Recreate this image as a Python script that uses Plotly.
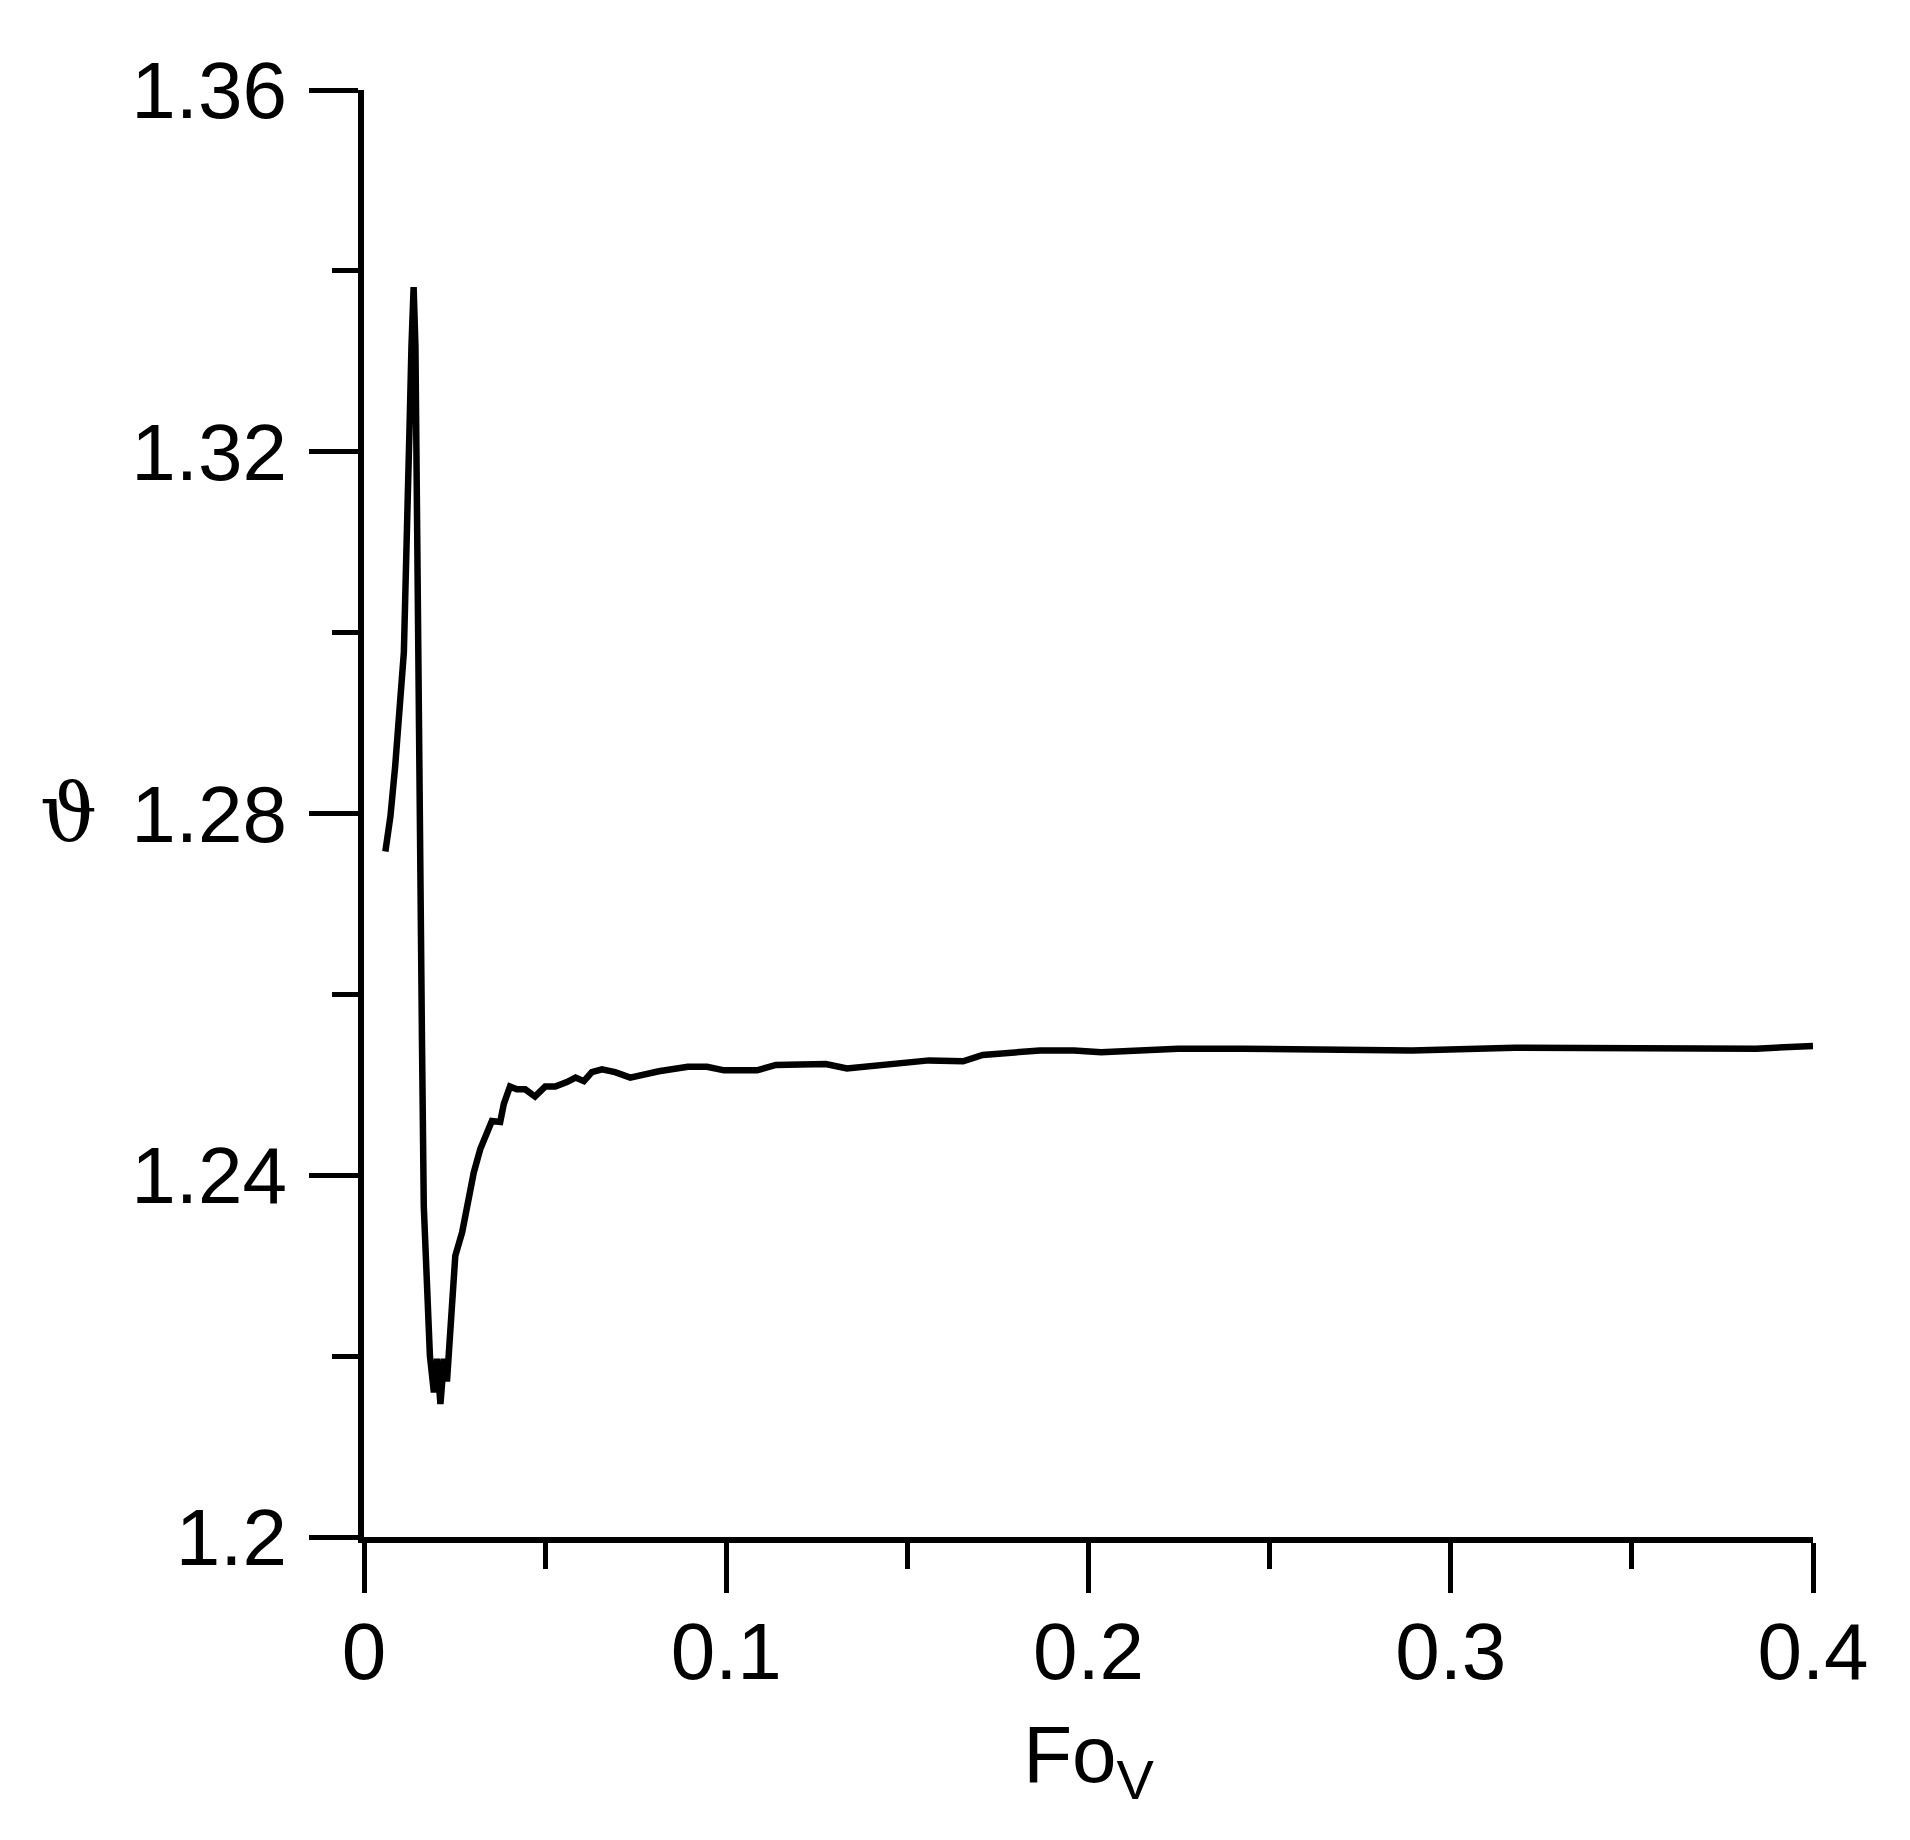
import plotly.graph_objects as go

# Data
fov = [0.0059, 0.0073, 0.0086, 0.0100, 0.0110, 0.0114, 0.0119, 0.0123, 0.0126, 0.0131,
       0.0137, 0.0142, 0.0146, 0.0151, 0.0155, 0.0160, 0.0165, 0.0174, 0.0182, 0.0193,
       0.0202, 0.0211, 0.0221, 0.0229, 0.0238, 0.0252, 0.0271, 0.0284, 0.0303, 0.0321,
       0.0335, 0.0353, 0.0376, 0.0386, 0.0403, 0.0422, 0.0445, 0.0472, 0.0500, 0.0528,
       0.0560, 0.0584, 0.0607, 0.0629, 0.0657, 0.0693, 0.0735, 0.0776, 0.0814, 0.0894,
       0.0947, 0.0994, 0.1085, 0.1137, 0.1275, 0.1333, 0.1444, 0.1560, 0.1654, 0.1708,
       0.1866, 0.1960, 0.2035, 0.2173, 0.2247, 0.2424, 0.2692, 0.2893, 0.3177, 0.3843,
       0.4000]
theta = [1.2758, 1.2797, 1.2852, 1.2915, 1.2978, 1.3042, 1.3105, 1.3169, 1.3232, 1.3316,
         1.3382, 1.3316, 1.3105, 1.2936, 1.2741, 1.2550, 1.2366, 1.2255, 1.2200, 1.2160,
         1.2197, 1.2147, 1.2197, 1.2172, 1.2233, 1.2311, 1.2337, 1.2366, 1.2403, 1.2429,
         1.2443, 1.2460, 1.2459, 1.2479, 1.2498, 1.2495, 1.2495, 1.2487, 1.2498, 1.2498,
         1.2503, 1.2508, 1.2504, 1.2514, 1.2517, 1.2514, 1.2508, 1.2512, 1.2515, 1.2520,
         1.2520, 1.2516, 1.2516, 1.2522, 1.2523, 1.2518, 1.2523, 1.2527, 1.2526, 1.2533,
         1.2538, 1.2538, 1.2536, 1.2538, 1.2540, 1.2540, 1.2538, 1.2538, 1.2541, 1.2540,
         1.2543]

x_tickvals = [0, 0.1, 0.2, 0.3, 0.4]
x_ticktext = ["0", "0.1", "0.2", "0.3", "0.4"]
y_tickvals = [1.2, 1.24, 1.28, 1.32, 1.36]
y_ticktext = ["1.2", "1.24", "1.28", "1.32", "1.36"]

FONT = "Arial, Liberation Sans, sans-serif"

fig = go.Figure()
fig.add_trace(go.Scatter(x=fov, y=theta, mode="lines",
                         line=dict(color="black", width=6.5), showlegend=False))

fig.update_layout(
    width=1910, height=1840, autosize=False,
    margin=dict(l=356, r=105, t=82, b=311),
    paper_bgcolor="white", plot_bgcolor="white",
    font=dict(family=FONT, size=80, color="black"),
)

fig.update_xaxes(
    range=[0, 0.4], showgrid=False, zeroline=False,
    showline=True, linecolor="black", linewidth=6,
    ticks="outside", ticklen=50, tickwidth=5, tickcolor="black",
    tickvals=x_tickvals, ticktext=x_ticktext,
    minor=dict(ticks="outside", ticklen=26, tickwidth=5, tickcolor="black",
               dtick=0.05, showgrid=False),
    tickfont=dict(family=FONT, size=80, color="black"),
    ticklabelstandoff=-10,
    title=dict(text="Fo<sub>V</sub>", font=dict(family=FONT, size=80, color="black"),
               standoff=33),
)

fig.update_yaxes(
    range=[1.2, 1.36], showgrid=False, zeroline=False,
    showline=True, linecolor="black", linewidth=6,
    ticks="outside", ticklen=49, tickwidth=5, tickcolor="black",
    tickvals=y_tickvals, ticktext=y_ticktext,
    minor=dict(ticks="outside", ticklen=26, tickwidth=5, tickcolor="black",
               dtick=0.02, showgrid=False),
    tickfont=dict(family=FONT, size=80, color="black"),
    ticklabelstandoff=6,
)

fig.add_annotation(
    text="ϑ", xref="paper", yref="y", x=-0.204, y=1.28,
    xanchor="center", yanchor="middle", showarrow=False,
    font=dict(family="DejaVu Serif, Liberation Serif, serif", size=80, color="black"),
)

fig.write_html("out.html")
